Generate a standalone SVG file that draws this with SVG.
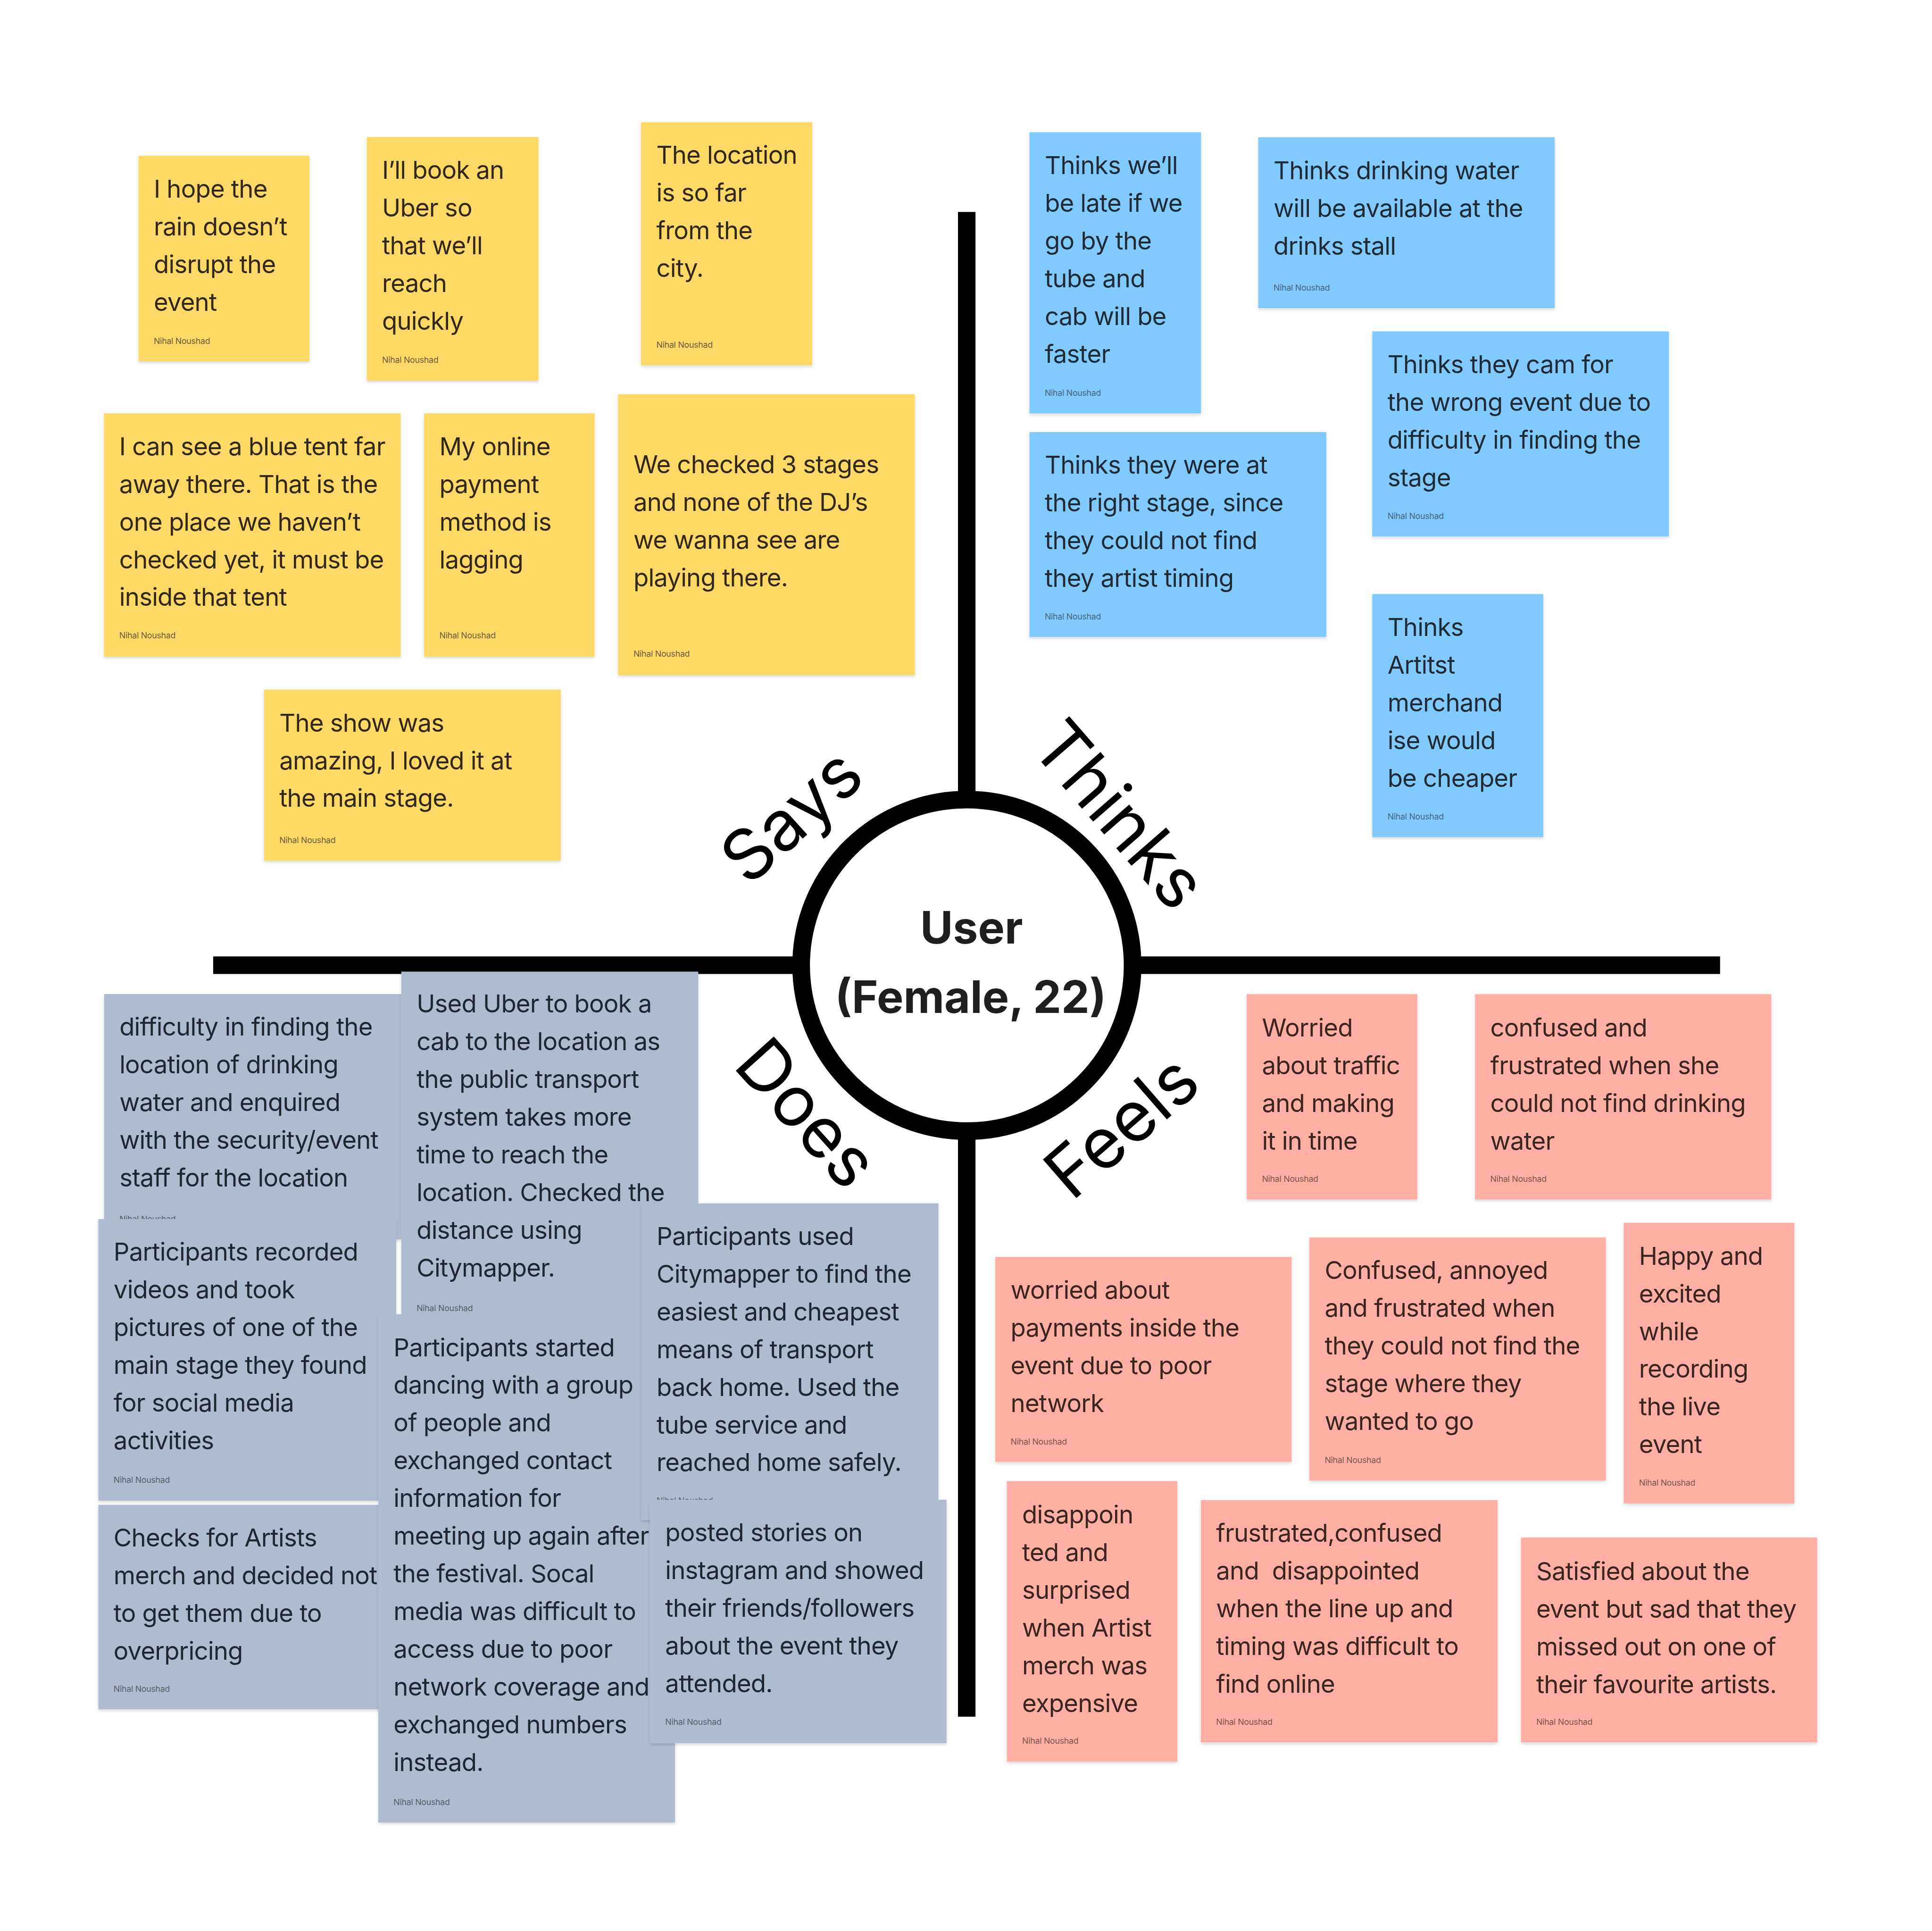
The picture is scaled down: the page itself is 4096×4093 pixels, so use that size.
<svg xmlns="http://www.w3.org/2000/svg" width="4096" height="4093" viewBox="0 0 4096 4093">
<defs>
<filter id="sh" x="-5%" y="-5%" width="110%" height="115%"><feDropShadow dx="0" dy="1.3" stdDeviation="1.3" flood-color="#000" flood-opacity="0.15"/></filter>
<style>
.n{filter:url(#sh)}
.y{fill:#FFD966}.b{fill:#80CAFF}.g{fill:#AFBCCF}.p{fill:#FFAFA3}
.t{font-family:Inter,"Noto Sans","Liberation Sans",sans-serif;font-size:20.2px;letter-spacing:-0.32px}
.a{font-family:Inter,"Noto Sans","Liberation Sans",sans-serif;font-size:6.8px;letter-spacing:-0.1px}
.ty{fill:#33271b}.tb{fill:#1f2a33}.tg{fill:#202631}.tp{fill:#3a2520}
.ay{fill:#6e5c40}.ab{fill:#46667f}.ag{fill:#585f6b}.ap{fill:#7d564d}
.lab{font-family:Inter,"Noto Sans","Liberation Sans",sans-serif;font-size:57px;fill:#000;text-anchor:middle}
.usr{font-family:Inter,"Noto Sans","Liberation Sans",sans-serif;font-size:36.3px;font-weight:700;fill:#1e1e1e;text-anchor:middle}
.ax{stroke:#000;stroke-width:14.2;fill:none}
</style>
</defs>
<rect width="4096" height="4093" fill="#fff"/>
<g transform="scale(2.612245)">
<g id="axes">
<line class="ax" x1="784.6" y1="172" x2="784.6" y2="1393"/>
<line class="ax" x1="173" y1="783.2" x2="1396" y2="783.2"/>
</g>
<g id="user">
<circle cx="784.7" cy="783.3" r="134.5" fill="#fff" stroke="#000" stroke-width="14.3"/>
<text class="usr" x="788.5" y="765.7">User</text>
<text class="usr" x="787.8" y="821.8">(Female, 22)</text>
</g>
<g id="labels">
<text class="lab" transform="translate(646.5,666.5) rotate(-42)" dy="0.24em">Says</text>
<text class="lab" transform="translate(909.5,660.2) rotate(49)" dy="0.37em">Thinks</text>
<text class="lab" transform="translate(655.5,902.8) rotate(48)" dy="0.36em">Does</text>
<text class="lab" transform="translate(909.5,913) rotate(-41)" dy="0.37em">Feels</text>
</g>

<!-- SAYS -->
<g id="says-1"><rect class="n y" x="112.4" y="126.4" width="138.8" height="166.8"/>
<text class="t ty"><tspan x="124.8" y="160.4">I hope the</tspan><tspan x="124.8" y="191">rain doesn’t</tspan><tspan x="124.8" y="221.6">disrupt the</tspan><tspan x="124.8" y="252.2">event</tspan></text>
<text class="a ay" x="124.8" y="279">Nihal Noushad</text></g>

<g id="says-2"><rect class="n y" x="297.7" y="111.2" width="139.3" height="197.7"/>
<text class="t ty"><tspan x="310.1" y="145.1">I’ll book an</tspan><tspan x="310.1" y="175.7">Uber so</tspan><tspan x="310.1" y="206.3">that we’ll</tspan><tspan x="310.1" y="236.9">reach</tspan><tspan x="310.1" y="267.5">quickly</tspan></text>
<text class="a ay" x="310.1" y="294.5">Nihal Noushad</text></g>

<g id="says-3"><rect class="n y" x="520.3" y="99.1" width="138.9" height="197.3"/>
<text class="t ty"><tspan x="532.7" y="132.9">The location</tspan><tspan x="532.7" y="163.5">is so far</tspan><tspan x="532.7" y="194.1">from the</tspan><tspan x="532.7" y="224.7">city.</tspan></text>
<text class="a ay" x="532.7" y="282">Nihal Noushad</text></g>

<g id="says-4"><rect class="n y" x="84.4" y="335.4" width="240.8" height="197.4"/>
<text class="t ty"><tspan x="96.8" y="369.3">I can see a blue tent far</tspan><tspan x="96.8" y="399.9">away there. That is the</tspan><tspan x="96.8" y="430.5">one place we haven’t</tspan><tspan x="96.8" y="461.1">checked yet, it must be</tspan><tspan x="96.8" y="491.7">inside that tent</tspan></text>
<text class="a ay" x="96.8" y="518">Nihal Noushad</text></g>

<g id="says-5"><rect class="n y" x="344.2" y="335.4" width="138.4" height="197.4"/>
<text class="t ty"><tspan x="356.6" y="369.3">My online</tspan><tspan x="356.6" y="399.9">payment</tspan><tspan x="356.6" y="430.5">method is</tspan><tspan x="356.6" y="461.1">lagging</tspan></text>
<text class="a ay" x="356.6" y="518">Nihal Noushad</text></g>

<g id="says-6"><rect class="n y" x="501.7" y="319.9" width="240.8" height="227.9"/>
<text class="t ty"><tspan x="514.1" y="384">We checked 3 stages</tspan><tspan x="514.1" y="414.6">and none of the DJ’s</tspan><tspan x="514.1" y="445.2">we wanna see are</tspan><tspan x="514.1" y="475.8">playing there.</tspan></text>
<text class="a ay" x="514.1" y="533">Nihal Noushad</text></g>

<g id="says-7"><rect class="n y" x="214.3" y="559.5" width="240.9" height="138.9"/>
<text class="t ty"><tspan x="226.7" y="593.6">The show was</tspan><tspan x="226.7" y="624.2">amazing, I loved it at</tspan><tspan x="226.7" y="654.8">the main stage.</tspan></text>
<text class="a ay" x="226.7" y="684">Nihal Noushad</text></g>

<!-- THINKS -->
<g id="thinks-1"><rect class="n b" x="835.5" y="107.3" width="139.2" height="228.1"/>
<text class="t tb"><tspan x="847.9" y="141.3">Thinks we’ll</tspan><tspan x="847.9" y="171.9">be late if we</tspan><tspan x="847.9" y="202.5">go by the</tspan><tspan x="847.9" y="233.1">tube and</tspan><tspan x="847.9" y="263.7">cab will be</tspan><tspan x="847.9" y="294.3">faster</tspan></text>
<text class="a ab" x="847.9" y="321">Nihal Noushad</text></g>

<g id="thinks-2"><rect class="n b" x="1021.2" y="111.4" width="240.6" height="138.6"/>
<text class="t tb"><tspan x="1033.6" y="145.5">Thinks drinking water</tspan><tspan x="1033.6" y="176.1">will be available at the</tspan><tspan x="1033.6" y="206.7">drinks stall</tspan></text>
<text class="a ab" x="1033.6" y="236">Nihal Noushad</text></g>

<g id="thinks-3"><rect class="n b" x="1113.7" y="268.9" width="240.8" height="166.4"/>
<text class="t tb"><tspan x="1126.1" y="302.7">Thinks they cam for</tspan><tspan x="1126.1" y="333.3">the wrong event due to</tspan><tspan x="1126.1" y="363.9">difficulty in finding the</tspan><tspan x="1126.1" y="394.5">stage</tspan></text>
<text class="a ab" x="1126.1" y="421">Nihal Noushad</text></g>

<g id="thinks-4"><rect class="n b" x="835.5" y="350.6" width="240.9" height="166.3"/>
<text class="t tb"><tspan x="847.9" y="384.4">Thinks they were at</tspan><tspan x="847.9" y="415">the right stage, since</tspan><tspan x="847.9" y="445.6">they could not find</tspan><tspan x="847.9" y="476.2">they artist timing</tspan></text>
<text class="a ab" x="847.9" y="502.5">Nihal Noushad</text></g>

<g id="thinks-5"><rect class="n b" x="1113.7" y="482" width="138.8" height="197.3"/>
<text class="t tb"><tspan x="1126.1" y="516.1">Thinks</tspan><tspan x="1126.1" y="546.7">Artitst</tspan><tspan x="1126.1" y="577.3">merchand</tspan><tspan x="1126.1" y="607.9">ise would</tspan><tspan x="1126.1" y="638.5">be cheaper</tspan></text>
<text class="a ab" x="1126.1" y="665">Nihal Noushad</text></g>

<!-- DOES -->
<g id="does-1"><rect class="n g" x="84.5" y="806.6" width="241.2" height="199"/>
<text class="t tg"><tspan x="96.9" y="840.2">difficulty in finding the</tspan><tspan x="96.9" y="870.8">location of drinking</tspan><tspan x="96.9" y="901.4">water and enquired</tspan><tspan x="96.9" y="932">with the security/event</tspan><tspan x="96.9" y="962.6">staff for the location</tspan></text>
<text class="a ag" x="96.9" y="991.6">Nihal Noushad</text></g>

<g id="does-2"><rect class="n g" x="325.7" y="788.4" width="241" height="290"/>
<text class="t tg"><tspan x="338.1" y="821.6">Used Uber to book a</tspan><tspan x="338.1" y="852.2">cab to the location as</tspan><tspan x="338.1" y="882.8">the public transport</tspan><tspan x="338.1" y="913.4">system takes more</tspan><tspan x="338.1" y="944">time to reach the</tspan><tspan x="338.1" y="974.6">location. Checked the</tspan><tspan x="338.1" y="1005.2">distance using</tspan><tspan x="338.1" y="1035.8">Citymapper.</tspan></text>
<text class="a ag" x="338.1" y="1063.8">Nihal Noushad</text></g>

<g id="does-3"><rect class="n g" x="79.8" y="989.2" width="241.8" height="228.4"/>
<text class="t tg"><tspan x="92.2" y="1022.9">Participants recorded</tspan><tspan x="92.2" y="1053.5">videos and took</tspan><tspan x="92.2" y="1084.1">pictures of one of the</tspan><tspan x="92.2" y="1114.7">main stage they found</tspan><tspan x="92.2" y="1145.3">for social media</tspan><tspan x="92.2" y="1175.9">activities</tspan></text>
<text class="a ag" x="92.2" y="1203.2">Nihal Noushad</text></g>

<g id="does-6"><rect class="n g" x="79.8" y="1221" width="241" height="166"/>
<text class="t tg"><tspan x="92.2" y="1255">Checks for Artists</tspan><tspan x="92.2" y="1285.6">merch and decided not</tspan><tspan x="92.2" y="1316.2">to get them due to</tspan><tspan x="92.2" y="1346.8">overpricing</tspan></text>
<text class="a ag" x="92.2" y="1372.6">Nihal Noushad</text></g>

<g id="does-5"><rect class="n g" x="307" y="1066.4" width="240.9" height="412.4"/>
<text class="t tg"><tspan x="319.4" y="1100.4">Participants started</tspan><tspan x="319.4" y="1131">dancing with a group</tspan><tspan x="319.4" y="1161.6">of people and</tspan><tspan x="319.4" y="1192.2">exchanged contact</tspan><tspan x="319.4" y="1222.8">information for</tspan><tspan x="319.4" y="1253.4">meeting up again after</tspan><tspan x="319.4" y="1284">the festival. Socal</tspan><tspan x="319.4" y="1314.6">media was difficult to</tspan><tspan x="319.4" y="1345.2">access due to poor</tspan><tspan x="319.4" y="1375.8">network coverage and</tspan><tspan x="319.4" y="1406.4">exchanged numbers</tspan><tspan x="319.4" y="1437">instead.</tspan></text>
<text class="a ag" x="319.4" y="1464.6">Nihal Noushad</text></g>

<g id="does-4"><rect class="n g" x="520.5" y="976.4" width="241.1" height="257"/>
<text class="t tg"><tspan x="532.9" y="1010.2">Participants used</tspan><tspan x="532.9" y="1040.8">Citymapper to find the</tspan><tspan x="532.9" y="1071.4">easiest and cheapest</tspan><tspan x="532.9" y="1102">means of transport</tspan><tspan x="532.9" y="1132.6">back home. Used the</tspan><tspan x="532.9" y="1163.2">tube service and</tspan><tspan x="532.9" y="1193.8">reached home safely.</tspan></text>
<text class="a ag" x="532.9" y="1220">Nihal Noushad</text></g>

<g id="does-7"><rect class="n g" x="527.5" y="1216.9" width="240.7" height="197.6"/>
<text class="t tg"><tspan x="539.9" y="1250.7">posted stories on</tspan><tspan x="539.9" y="1281.3">instagram and showed</tspan><tspan x="539.9" y="1311.9">their friends/followers</tspan><tspan x="539.9" y="1342.5">about the event they</tspan><tspan x="539.9" y="1373.1">attended.</tspan></text>
<text class="a ag" x="539.9" y="1399.5">Nihal Noushad</text></g>

<!-- FEELS -->
<g id="feels-1"><rect class="n p" x="1011.8" y="806.7" width="138.5" height="166.6"/>
<text class="t tp"><tspan x="1024.2" y="841.1">Worried</tspan><tspan x="1024.2" y="871.7">about traffic</tspan><tspan x="1024.2" y="902.3">and making</tspan><tspan x="1024.2" y="932.9">it in time</tspan></text>
<text class="a ap" x="1024.2" y="959">Nihal Noushad</text></g>

<g id="feels-2"><rect class="n p" x="1197.1" y="806.7" width="240.5" height="166.6"/>
<text class="t tp"><tspan x="1209.5" y="841.1">confused and</tspan><tspan x="1209.5" y="871.7">frustrated when she</tspan><tspan x="1209.5" y="902.3">could not find drinking</tspan><tspan x="1209.5" y="932.9">water</tspan></text>
<text class="a ap" x="1209.5" y="959">Nihal Noushad</text></g>

<g id="feels-3"><rect class="n p" x="807.8" y="1019.9" width="240.5" height="166.3"/>
<text class="t tp"><tspan x="820.2" y="1053.9">worried about</tspan><tspan x="820.2" y="1084.5">payments inside the</tspan><tspan x="820.2" y="1115.1">event due to poor</tspan><tspan x="820.2" y="1145.7">network</tspan></text>
<text class="a ap" x="820.2" y="1172">Nihal Noushad</text></g>

<g id="feels-4"><rect class="n p" x="1062.7" y="1004.1" width="240.6" height="197.3"/>
<text class="t tp"><tspan x="1075.1" y="1037.9">Confused, annoyed</tspan><tspan x="1075.1" y="1068.5">and frustrated when</tspan><tspan x="1075.1" y="1099.1">they could not find the</tspan><tspan x="1075.1" y="1129.7">stage where they</tspan><tspan x="1075.1" y="1160.3">wanted to go</tspan></text>
<text class="a ap" x="1075.1" y="1187">Nihal Noushad</text></g>

<g id="feels-5"><rect class="n p" x="1317.8" y="992.2" width="138.5" height="227.7"/>
<text class="t tp"><tspan x="1330.2" y="1026.2">Happy and</tspan><tspan x="1330.2" y="1056.8">excited</tspan><tspan x="1330.2" y="1087.4">while</tspan><tspan x="1330.2" y="1118">recording</tspan><tspan x="1330.2" y="1148.6">the live</tspan><tspan x="1330.2" y="1179.2">event</tspan></text>
<text class="a ap" x="1330.2" y="1205.5">Nihal Noushad</text></g>

<g id="feels-6"><rect class="n p" x="817.2" y="1201.8" width="138.3" height="227.6"/>
<text class="t tp"><tspan x="829.6" y="1236.2">disappoin</tspan><tspan x="829.6" y="1266.8">ted and</tspan><tspan x="829.6" y="1297.4">surprised</tspan><tspan x="829.6" y="1328">when Artist</tspan><tspan x="829.6" y="1358.6">merch was</tspan><tspan x="829.6" y="1389.2">expensive</tspan></text>
<text class="a ap" x="829.6" y="1415">Nihal Noushad</text></g>

<g id="feels-7"><rect class="n p" x="974.6" y="1217.2" width="240.8" height="196.6"/>
<text class="t tp" xml:space="preserve"><tspan x="987" y="1251.2">frustrated,confused</tspan><tspan x="987" y="1281.8">and  disappointed</tspan><tspan x="987" y="1312.4">when the line up and</tspan><tspan x="987" y="1343">timing was difficult to</tspan><tspan x="987" y="1373.6">find online</tspan></text>
<text class="a ap" x="987" y="1399.5">Nihal Noushad</text></g>

<g id="feels-8"><rect class="n p" x="1234.4" y="1247.6" width="240.4" height="166.2"/>
<text class="t tp"><tspan x="1246.8" y="1282.2">Satisfied about the</tspan><tspan x="1246.8" y="1312.8">event but sad that they</tspan><tspan x="1246.8" y="1343.4">missed out on one of</tspan><tspan x="1246.8" y="1374">their favourite artists.</tspan></text>
<text class="a ap" x="1246.8" y="1399.5">Nihal Noushad</text></g>

<g id="connectors"/>
</g>
</svg>
